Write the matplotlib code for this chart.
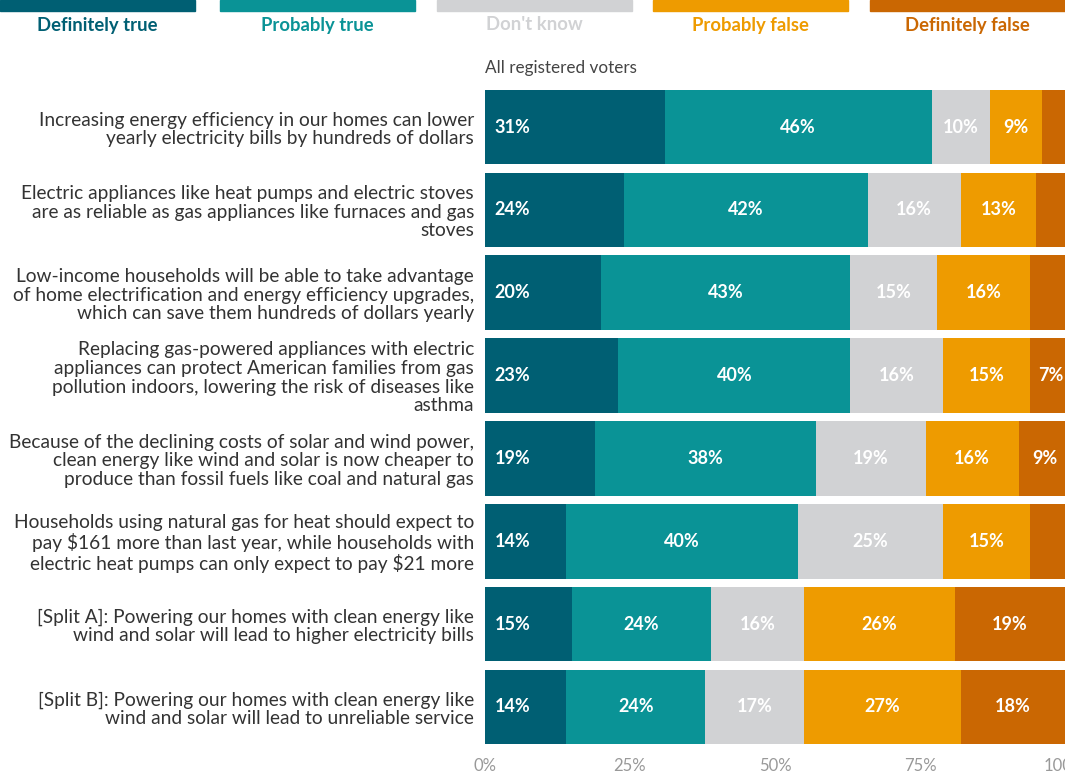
import matplotlib.pyplot as plt
from matplotlib.patches import Rectangle

statements = [
    "Increasing energy efficiency in our homes can lower\nyearly electricity bills by hundreds of dollars",
    "Electric appliances like heat pumps and electric stoves\nare as reliable as gas appliances like furnaces and gas\nstoves",
    "Low-income households will be able to take advantage\nof home electrification and energy efficiency upgrades,\nwhich can save them hundreds of dollars yearly",
    "Replacing gas-powered appliances with electric\nappliances can protect American families from gas\npollution indoors, lowering the risk of diseases like\nasthma",
    "Because of the declining costs of solar and wind power,\nclean energy like wind and solar is now cheaper to\nproduce than fossil fuels like coal and natural gas",
    "Households using natural gas for heat should expect to\npay $161 more than last year, while households with\nelectric heat pumps can only expect to pay $21 more",
    "[Split A]: Powering our homes with clean energy like\nwind and solar will lead to higher electricity bills",
    "[Split B]: Powering our homes with clean energy like\nwind and solar will lead to unreliable service",
]
categories = ["Definitely true", "Probably true", "Don't know", "Probably false", "Definitely false"]
def_true = [31, 24, 20, 23, 19, 14, 15, 14]
prob_true = [46, 42, 43, 40, 38, 40, 24, 24]
dont_know = [10, 16, 15, 16, 19, 25, 16, 17]
prob_false = [9, 13, 16, 15, 16, 15, 26, 27]
def_false = [4, 5, 6, 7, 9, 6, 19, 18]
xticks = [0, 25, 50, 75, 100]

colors = ["#005f73", "#0a9396", "#d1d2d4", "#ee9b00", "#ca6702"]
series = [def_true, prob_true, dont_know, prob_false, def_false]

plt.rcParams['font.family'] = ['Lato', 'DejaVu Sans']

fig = plt.figure(figsize=(10.65, 7.79), dpi=100)
ax = fig.add_axes([485 / 1065, 1 - 748.4 / 779, 580 / 1065, (748.4 - 85.6) / 779])

y = list(range(len(statements)))
left = [0] * len(statements)
for k, (vals, col) in enumerate(zip(series, colors)):
    ax.barh(y, vals, left=left, height=0.9, color=col)
    for i, v in enumerate(vals):
        if v >= 7:
            if k == 0:
                ax.text(left[i] + 1.7, i, f"{v}%", ha='left', va='center',
                        color="white", fontsize=13, fontweight='bold')
            else:
                ax.text(left[i] + v / 2, i, f"{v}%", ha='center', va='center',
                        color="white", fontsize=13, fontweight='bold')
    left = [l + v for l, v in zip(left, vals)]

ax.set_ylim(len(statements) - 0.5, -0.5)
ax.set_xlim(0, 100)
ax.set_yticks(y)
ax.set_yticklabels(statements, fontsize=13.8, color="#333333", linespacing=1.12)
ax.set_xticks(xticks)
ax.set_xticklabels([f"{t}%" for t in xticks], fontsize=12, color="#999999")
ax.tick_params(axis='both', length=0)
ax.tick_params(axis='y', pad=8)
ax.tick_params(axis='x', pad=7)
for s in ax.spines.values():
    s.set_visible(False)

ax.text(0, -0.62, "All registered voters", transform=ax.transData,
        fontsize=12.3, color="#444444", ha='left', va='bottom')

# legend bars on top
starts = [0, 220, 437, 653, 870]
for st, col, lab in zip(starts, colors, categories):
    fig.patches.append(Rectangle((st / 1065, 1 - 11 / 779), 195 / 1065, 11 / 779,
                                 transform=fig.transFigure, color=col))
    fig.text((st + 97) / 1065, 1 - 25 / 779, lab, ha='center', va='center',
             color=col, fontsize=13.3, fontweight='bold')

fig.savefig("out.png", dpi=100)
